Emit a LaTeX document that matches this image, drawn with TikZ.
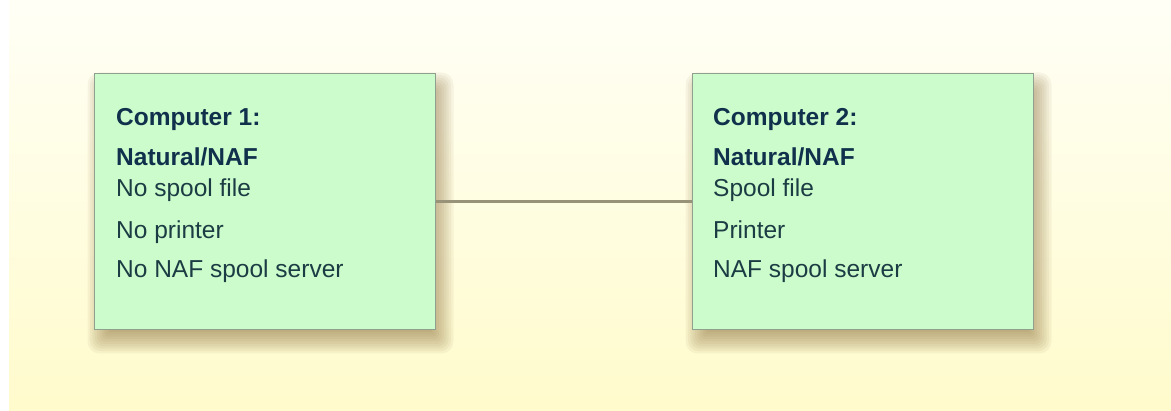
\documentclass[tikz,border=0pt]{standalone}
\usepackage{fontspec}
\setmainfont{Liberation Sans}
\usetikzlibrary{calc}
\definecolor{bgtop}{HTML}{FFFFF6}
\definecolor{bgbot}{HTML}{FFFBCC}
\definecolor{boxfill}{HTML}{CCFCCC}
\definecolor{boxline}{HTML}{8FA08F}
\definecolor{txt}{HTML}{1C3C44}
\definecolor{hdr}{HTML}{10304C}
\definecolor{conn}{HTML}{989278}
\definecolor{shad}{HTML}{8A6A38}
\pgfdeclarelayer{bglayer}
\pgfdeclarelayer{shadowlayer}
\pgfsetlayers{bglayer,shadowlayer,main}
\tikzset{
  compbox/.style={draw=boxline, line width=1pt, fill=boxfill,
    minimum width=341pt, minimum height=256pt, inner sep=0pt},
  hline/.style={anchor=base west, inner sep=0pt, text=hdr,
    font=\fontsize{24.5}{29}\selectfont\bfseries},
  tline/.style={anchor=base west, inner sep=0pt, text=txt,
    font=\fontsize{24.5}{29}\selectfont},
  link/.style={draw=conn, line width=3pt},
  shadowpart/.style={fill=shad, fill opacity=0.07, draw=none}
}
\begin{document}
\begin{tikzpicture}[x=1pt,y=-1pt]
\begin{pgfonlayer}{bglayer}
\fill[white] (0,0) rectangle (1171,411);
\shade[top color=bgtop, bottom color=bgbot] (9,0) rectangle (1171,411);
\end{pgfonlayer}
\useasboundingbox (0,0) rectangle (1171,411);

\node[compbox] (c1) at (264.5,202) {};
\node[compbox] (c2) at (862.5,202) {};

\begin{pgfonlayer}{shadowlayer}
\foreach \b in {c1,c2}{
  \foreach \i in {0,...,9}{
    \fill[shadowpart, rounded corners={12pt-1.2pt*\i}]
      ($(\b.north west)+(6-12+2.4*\i,11-12+2.4*\i)$) rectangle
      ($(\b.south east)+(6+12-2.4*\i,11+12-2.4*\i)$);
  }
}
\end{pgfonlayer}

\draw[link] (c1.east) -- (c2.west);

\node[hline] (c1h) at (116,126) {Computer 1:};
\node[hline] (c1n) at (116,166) {Natural/NAF};
\node[tline] (c1a) at (116,197) {No spool file};
\node[tline] (c1b) at (116,239) {No printer};
\node[tline] (c1c) at (116,278) {No NAF spool server};

\node[hline] (c2h) at (713,126) {Computer 2:};
\node[hline] (c2n) at (713,166) {Natural/NAF};
\node[tline] (c2a) at (713,197) {Spool file};
\node[tline] (c2b) at (713,239) {Printer};
\node[tline] (c2c) at (713,278) {NAF spool server};
\end{tikzpicture}
\end{document}
